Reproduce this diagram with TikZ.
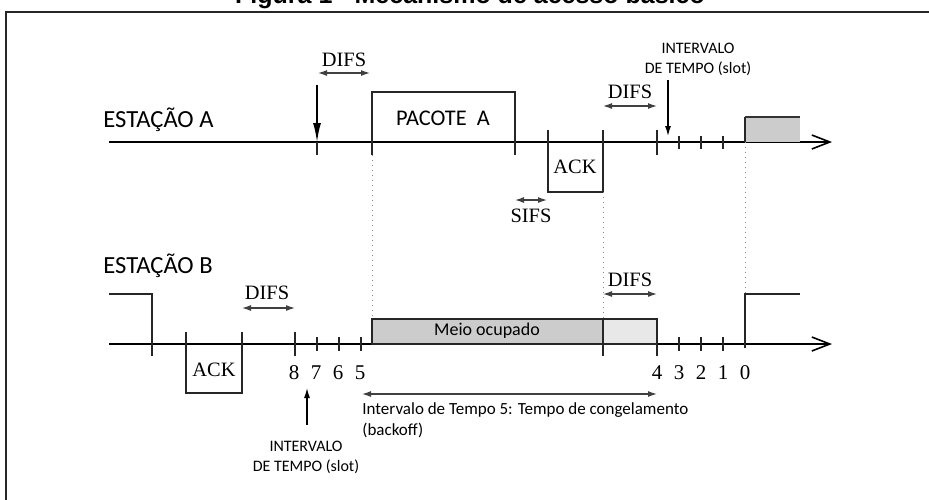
\documentclass[tikz,border=0pt]{standalone}
\usepackage{fontspec}
\setmainfont{Liberation Serif}
\newfontfamily\carlito{Carlito}
\newfontfamily\arialfont{Liberation Sans}
\usetikzlibrary{arrows.meta}

\begin{document}
\begin{tikzpicture}[
    x=0.5pt, y=-0.5pt,
    axis/.style={line width=0.8pt, -{Straight Barb[length=9pt,width=7pt,line width=0.8pt]}},
    tick/.style={line width=0.7pt, black!85},
    small/.style={line width=0.6pt, black!85},
    frame/.style={line width=1pt, black!85},
    dim/.style={{Latex[length=4.5pt,width=3pt]}-{Latex[length=4.5pt,width=3pt]}, line width=0.6pt, black!75},
    guide/.style={dotted, black!45, line width=0.5pt},
    station/.style={font=\carlito\fontsize{12.3}{15}\selectfont, anchor=base west, inner sep=0pt},
    timing/.style={font=\fontsize{10.2}{12}\selectfont, inner sep=0pt},
    count/.style={font=\fontsize{10.5}{12}\selectfont, inner sep=0pt},
    slot/.style={font=\carlito\fontsize{8}{10}\selectfont, align=center, inner sep=0pt},
    busy/.style={draw, line width=0.6pt, black!85, fill=gray!40},
]
\useasboundingbox (0,0) rectangle (929,499);
\node[font=\arialfont\bfseries\fontsize{12.5}{14}\selectfont, anchor=base] (title) at (470,3) {Figura 1 - Mecanismo de acesso básico};
\draw[frame] (6,12) rectangle (940,510);

% station A
\node[station] (staA) at (103,127) {ESTAÇÃO A};
\draw[axis] (109,142) -- (832,142);
\draw[line width=1.1pt, -{Latex[length=10pt,width=4pt]}] (317,85) -- (317,143);
\draw[tick] (317,142) -- (317,155);
\node[timing] (difsA) at (344,60) {DIFS};
\draw[dim] (318,73) -- (370,73);
\draw[tick] (372,155) -- (372,92) -- (515,92) -- (515,155);
\node[font=\carlito\fontsize{11.2}{13}\selectfont] (pktA) at (443,118) {PACOTE\ \ A};
\draw[tick] (548,130) -- (548,192) -- (603,192) -- (603,130);
\node[timing] (ackA) at (575,167) {ACK};
\draw[dim] (515,200) -- (547,200);
\node[timing] (sifs) at (531,216) {SIFS};
\node[timing] (difsA2) at (630,92) {DIFS};
\draw[dim] (603,106) -- (657,106);
\draw[tick] (657,130) -- (657,155);
\foreach \x in {679,701,723}
  \draw[small] (\x,136) -- (\x,149);
\node[slot] (slotA) at (698,59) {INTERVALO\\DE TEMPO (slot)};
\draw[line width=0.6pt, -{Latex[length=5pt,width=3pt]}] (668,80) -- (668,136);
\fill[gray!40] (745,142) rectangle (800,117);
\draw[small] (745,142) -- (745,117);
\draw[line width=1.1pt, black!80] (745,117) -- (800,117);

% guides
\draw[guide] (372,155) -- (372,319);
\draw[guide] (603,192) -- (603,319);
\draw[guide] (745,142) -- (745,294);

% station B
\node[station] (staB) at (103,273) {ESTAÇÃO B};
\draw[axis] (109,344) -- (832,344);
\draw[tick] (109,294) -- (152,294) -- (152,356);
\draw[tick] (186,332) -- (186,393) -- (242,393) -- (242,332);
\node[timing] (ackB) at (214,370) {ACK};
\node[timing] (difsB) at (267,293) {DIFS};
\draw[dim] (242,308) -- (295,308);
\draw[tick] (295,332) -- (295,356);
\foreach \x in {317,339,361}
  \draw[small] (\x,337) -- (\x,351);
\draw[busy] (372,344) rectangle (603,319);
\node[font=\carlito\fontsize{9}{11}\selectfont] (busyB) at (487,331) {Meio ocupado};
\draw[busy, fill=gray!18] (603,344) rectangle (657,319);
\draw[tick] (603,344) -- (603,356);
\draw[tick] (657,344) -- (657,356);
\node[timing] (difsB2) at (630,280) {DIFS};
\draw[dim] (603,294) -- (657,294);
\foreach \x in {679,701,723}
  \draw[small] (\x,337) -- (\x,351);
\draw[tick] (745,348) -- (745,294) -- (800,294);
\foreach \x/\n in {294/8,316/7,338/6,360/5,657/4,679/3,701/2,723/1,745/0}
  \node[count] at (\x,373) {\n};

% backoff
\draw[dim] (362,394) -- (657,394);
\node[font=\carlito\fontsize{8.5}{10.5}\selectfont, anchor=north west, align=left, inner sep=0pt] (backoff) at (362,402) {Intervalo de Tempo 5: Tempo de congelamento\\(backoff)};
\draw[line width=0.6pt, -{Latex[length=5pt,width=3pt]}] (307,425) -- (307,388);
\node[slot] (slotB) at (306,457) {INTERVALO\\DE TEMPO (slot)};
\end{tikzpicture}
\end{document}
